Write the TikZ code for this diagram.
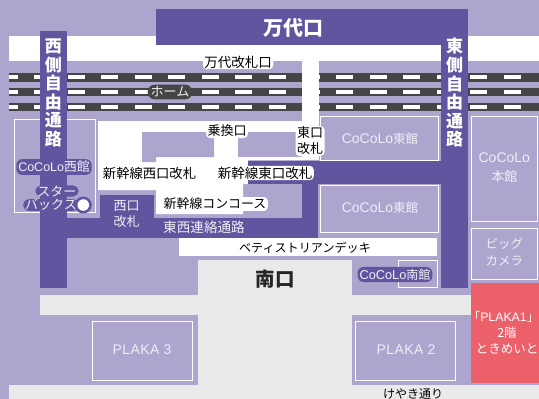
\documentclass[tikz,border=0pt]{standalone}
\usepackage{fontspec}
\setmainfont{Noto Sans CJK JP}
\newfontfamily\lat{Liberation Sans}
\newfontfamily\latsp[LetterSpace=3]{Liberation Sans}
\definecolor{lav}{HTML}{AEA5CF}
\definecolor{pur}{HTML}{62559F}
\definecolor{rail}{HTML}{474445}
\definecolor{plaza}{HTML}{E9EAEA}
\definecolor{tokim}{HTML}{EC6069}
\definecolor{pale}{HTML}{F0EEF6}
\newcommand{\coco}[1]{{\fontsize{#1}{#1}\lat CoCoLo}}
\tikzset{
  x=1pt,y=-1pt,
  shop/.style={draw=white,line width=1pt,fill=none},
  blk/.style={text=black,inner sep=0pt,align=center},
  halo/.style={blk,fill=white,rounded corners=4pt,inner xsep=1.5pt,inner ysep=1pt},
  lite/.style={text=pale,inner sep=0pt,align=center},
  pill/.style={text=pale,fill=pur,rounded corners=6pt,inner xsep=2pt,inner ysep=2pt,align=center},
  dash line/.style={white,line width=4pt},
  tall/.style={text=white,inner sep=0pt,align=center,font=\fontsize{17}{18.6}\selectfont\bfseries},
}
\begin{document}
\begin{tikzpicture}
\useasboundingbox (0,0) rectangle (539,399);
\clip (0,0) rectangle (539,399);
\fill[lav] (0,0) rectangle (539,399);
% white band
\fill[white] (9,36) rectangle (539,61);
% rails
\foreach \ya/\yb in {73/81.5,88/96,102.5/110.5}{
  \fill[rail] (9,\ya) rectangle (539,\yb);
  \pgfmathsetmacro{\ym}{(\ya+\yb)/2}
  \foreach \i in {0,...,15}{
    \pgfmathsetmacro{\xa}{0.6+33.55*\i}
    \pgfmathsetmacro{\xb}{\xa+17}
    \ifnum\i=0
      \draw[dash line] (9,\ym) -- (\xb,\ym);
    \else
      \draw[dash line] (\xa,\ym) -- (\xb,\ym);
    \fi
  }
}
% white concourse
\fill[white] (302,61) rectangle (319,160);
\fill[white] (98,121) -- (302,121) -- (302,160) -- (248,160) -- (248,184) -- (243,184) -- (243,214) -- (156,214) -- (156,190) -- (98,190) -- cycle;
\fill[lav] (142,132) -- (214,132) -- (214,157) -- (156,157) -- (156,162) -- (142,162) -- cycle;
\fill[lav] (238,132) rectangle (302,157);
% plaza
\fill[plaza] (198,259.5) rectangle (351.5,399);
\fill[plaza] (40,294.5) rectangle (539,314.5);
\fill[plaza] (9,384.5) rectangle (539,399);
\fill[tokim] (471,282.7) rectangle (539,382.7);
% shop outlines
\draw[shop] (14.5,119.5) rectangle (95,212.5);
\draw[shop] (320.5,116.5) rectangle (438,160);
\draw[shop] (320.5,185) rectangle (438,232.7);
\draw[shop] (471.7,116.5) rectangle (537.3,221);
\draw[shop] (471.7,228.3) rectangle (537.3,279);
\draw[shop] (92.5,321.7) rectangle (192.7,380.3);
\draw[shop] (355.7,321.7) rectangle (455.7,380.3);
\draw[shop] (398.7,260.7) rectangle (437.3,287.7);
% purple corridors
\fill[pur] (156,9) rectangle (468,45);
\fill[white] (156,45) rectangle (441,61);
\fill[pur] (40,31) rectangle (67,288);
\fill[pur] (441,9) rectangle (468,288);
\fill[pur] (248,161) rectangle (441,184);
\fill[pur] (302,184) rectangle (318,238);
\fill[pur] (67,218) rectangle (318,238);
\fill[pur] (193,238) rectangle (207,242);
\fill[pur] (99.5,194.5) rectangle (153.5,218);
% deck
\fill[white] (179,238) rectangle (437,255.7);
% labels
\node[inner sep=0pt,text=white,font=\fontsize{20}{24}\selectfont\bfseries] (mandai) at (293,28) {万代口};
\node[tall] (west) at (53.5,93) {西\\側\\自\\由\\通\\路};
\node[tall] (east) at (454.5,93) {東\\側\\自\\由\\通\\路};
\node[halo,font=\fontsize{13.5}{16}\selectfont] (mandaikai) at (238,62) {万代改札口};
\node[text=pale,fill=rail,rounded corners=7pt,inner xsep=3pt,inner ysep=2pt,font=\fontsize{13}{15}\selectfont] (home) at (170,92) {ホーム};
\node[halo,font=\fontsize{13}{15}\selectfont] (norikae) at (227,131) {乗換口};
\node[halo,font=\fontsize{13}{16}\selectfont] (higashi) at (310,141) {東口\\改札};
\node[halo,font=\fontsize{13.3}{15}\selectfont] (shinw) at (149.5,173) {新幹線西口改札};
\node[halo,font=\fontsize{13.5}{15}\selectfont] (shine) at (265,173) {新幹線東口改札};
\node[lite,font=\fontsize{13}{16.5}\selectfont] (nishi) at (126.5,214) {西口\\改札};
\node[halo,font=\fontsize{12.9}{15}\selectfont] (conc) at (215,204) {新幹線コンコース};
\node[lite,font=\fontsize{13.6}{15}\selectfont] (tozai) at (204,227.5) {東西連絡通路};
\node[blk,font=\fontsize{12.1}{15}\selectfont] (deck) at (305,248) {ベティストリアンデッキ};
\node[blk,font=\fontsize{19.5}{22}\selectfont\bfseries,text=black!85] (minami) at (275,279) {南口};
\node[pill,font=\fontsize{12.8}{14}\selectfont] (cw) at (54,167) {\coco{12.5}西館};
\node[pill,font=\fontsize{13}{15}\selectfont,inner ysep=0pt] (star1) at (57,191) {スター};
\node[pill,font=\fontsize{13}{15}\selectfont,inner ysep=0pt] (star2) at (51,205) {バックス};
\fill[pur] (83.3,205) circle (8.5);
\fill[white] (83.3,205) circle (5.8);
\node[lite,font=\fontsize{12.5}{15}\selectfont] (ce1) at (380,139) {\coco{14}東館};
\node[lite,font=\fontsize{12.5}{15}\selectfont] (ce2) at (380,208) {\coco{14}東館};
\node[lite,font=\fontsize{13}{19}\selectfont] (cm) at (504.3,167.5) {\coco{14}\\本館};
\node[lite,font=\fontsize{12.5}{17}\selectfont] (big) at (504.3,252.5) {ビッグ\\カメラ};
\node[pill,font=\fontsize{12}{14}\selectfont] (cs) at (395,274.5) {\coco{12.8}南館};
\node[lite,font=\fontsize{14}{16}\latsp] (p3) at (142,350) {PLAKA 3};
\node[lite,font=\fontsize{14}{16}\latsp] (p2) at (406,350) {PLAKA 2};
\node[text=white,inner sep=0pt,font=\fontsize{12}{15}\selectfont] (p1a) at (503.5,317) {「{\fontsize{12.3}{15}\lat PLAKA1}」};
\node[text=white,inner sep=0pt,align=center,font=\fontsize{12.5}{16}\selectfont] (p1b) at (507,341) {2階\\ときめいと};
\node[blk,font=\fontsize{12}{14}\selectfont] (keyaki) at (413,394) {けやき通り};
\end{tikzpicture}
\end{document}
